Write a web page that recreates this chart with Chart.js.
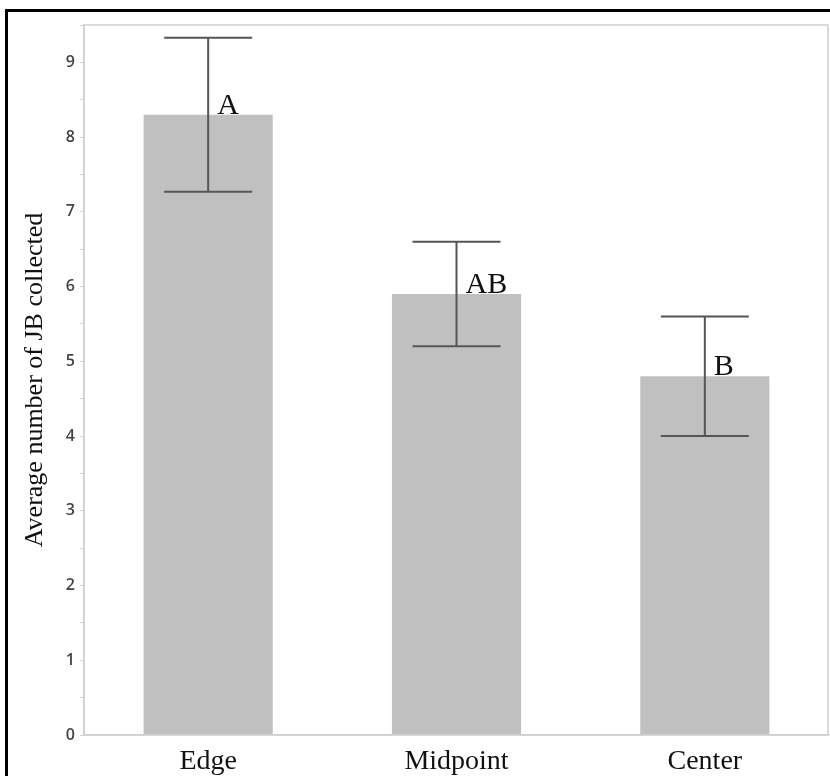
<!DOCTYPE html>
<html>
<head>
<meta charset="utf-8">
<script src="https://cdn.jsdelivr.net/npm/chart.js@4/dist/chart.umd.min.js"></script>
<style>
  body { margin: 0; background: #fff; }
  canvas { display: block; }
</style>
</head>
<body>
<canvas id="jbChart" width="830" height="776"></canvas>
<script>
// Data
const categories = ['Edge', 'Midpoint', 'Center'];
const means = [8.3, 5.9, 4.8];
const errors = [1.03, 0.7, 0.8];
const letters = ['A', 'AB', 'B'];

const SERIF = '"Liberation Serif", "Times New Roman", serif';

// error bars + significance letters + frame
const extras = {
    id: 'extras',
    afterDatasetsDraw(chart) {
        const ctx = chart.ctx;
        const x = chart.scales.x;
        const y = chart.scales.y;
        ctx.save();
        ctx.strokeStyle = '#555';
        ctx.lineWidth = 2;
        means.forEach((m, i) => {
            const cx = x.getPixelForValue(i);
            const top = y.getPixelForValue(m + errors[i]);
            const bot = y.getPixelForValue(m - errors[i]);
            ctx.beginPath();
            ctx.moveTo(cx, top); ctx.lineTo(cx, bot);
            ctx.moveTo(cx - 44, top); ctx.lineTo(cx + 44, top);
            ctx.moveTo(cx - 44, bot); ctx.lineTo(cx + 44, bot);
            ctx.stroke();
        });
        ctx.fillStyle = '#111';
        ctx.font = '30px ' + SERIF;
        ctx.textAlign = 'left';
        ctx.textBaseline = 'alphabetic';
        letters.forEach((l, i) => {
            ctx.fillText(l, x.getPixelForValue(i) + 9, y.getPixelForValue(means[i]) - 1);
        });
        // plot frame
        const a = chart.chartArea;
        ctx.strokeStyle = '#d0d0d0';
        ctx.lineWidth = 1.5;
        ctx.strokeRect(a.left, a.top, a.right - a.left - 1, a.bottom - a.top);
        ctx.restore();
    },
    afterDraw(chart) {
        const ctx = chart.ctx;
        ctx.save();
        ctx.strokeStyle = '#000';
        ctx.lineWidth = 3;
        ctx.beginPath();
        ctx.moveTo(6.5, 776); ctx.lineTo(6.5, 10.5); ctx.lineTo(830, 10.5);
        ctx.stroke();
        ctx.restore();
    }
};

new Chart(document.getElementById('jbChart'), {
    type: 'bar',
    data: {
        labels: categories,
        datasets: [{
            data: means,
            backgroundColor: '#c0c0c0',
            borderWidth: 0,
            categoryPercentage: 1,
            barPercentage: 0.52
        }]
    },
    options: {
        responsive: false,
        animation: false,
        layout: { padding: { left: 0, top: 25, right: 1, bottom: 0 } },
        plugins: {
            legend: { display: false },
            tooltip: { enabled: false }
        },
        scales: {
            x: {
                grid: { display: false },
                border: { color: '#d0d0d0', width: 1.5 },
                ticks: {
                    color: '#111',
                    font: { family: SERIF, size: 28 },
                    padding: 2
                },
                afterFit(s) { s.height = 41; }
            },
            y: {
                min: 0,
                max: 9.5,
                grid: {
                    drawOnChartArea: false,
                    color: '#d0d0d0',
                    tickLength: 4
                },
                border: { color: '#d0d0d0', width: 1.5 },
                ticks: {
                    stepSize: 0.5,
                    autoSkip: false,
                    color: '#444',
                    font: { family: '"Open Sans", sans-serif', size: 16, weight: '600' },
                    padding: 5,
                    callback: v => Number.isInteger(v) ? v : ''
                },
                title: {
                    display: true,
                    text: 'Average number of JB collected',
                    color: '#111',
                    font: { family: SERIF, size: 26 },
                    padding: { top: 20, bottom: 0 }
                },
                afterFit(s) { s.width = 84; }
            }
        }
    },
    plugins: [extras]
});
</script>
</body>
</html>
